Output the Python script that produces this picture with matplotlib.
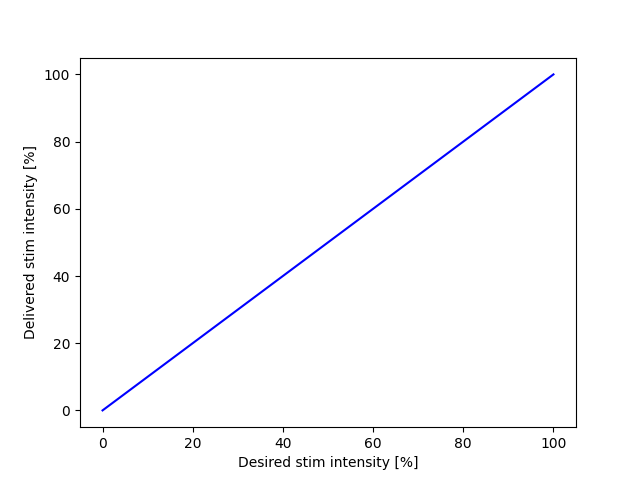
import matplotlib
matplotlib.use('Agg')
import matplotlib.pyplot as plt

desired = [0, 100]
delivered = [0, 100]

fig, ax = plt.subplots(figsize=(6.4, 4.8), dpi=100)
ax.plot(desired, delivered, color='blue')
ax.set_xlabel('Desired stim intensity [%]')
ax.set_ylabel('Delivered stim intensity [%]')
fig.savefig('out.png')
